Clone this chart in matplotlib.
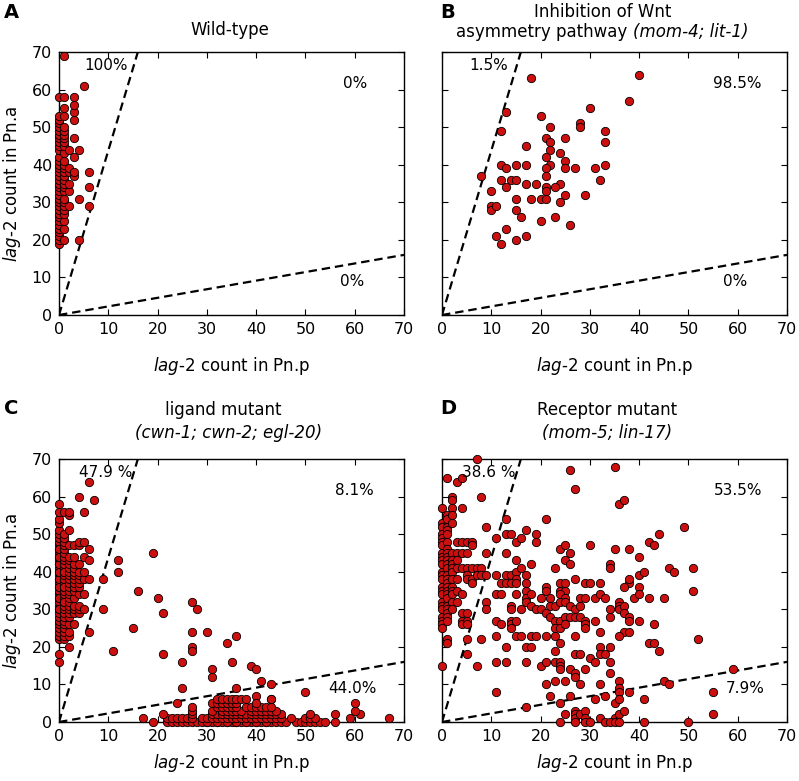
import matplotlib.pyplot as plt

plt.rcParams['font.family'] = 'DejaVu Sans'
plt.rcParams['mathtext.fontset'] = 'dejavusans'

# --- data (lag-2 counts: Pn.p on x, Pn.a on y) ---

# A: wild-type, Pn.p count -> list of Pn.a counts
wt_cols = {
    0: [19, 20, 21, 22, 23, 24, 25, 26, 27, 28, 29, 30, 31, 32, 33, 34, 35, 36, 37, 38,
        39, 40, 41, 42, 44, 45, 46, 47, 48, 49, 50, 51, 52, 53, 58],
    1: [20, 23, 25, 27, 28, 29, 30, 31, 33, 34, 35, 36, 37, 38, 39, 40, 41, 43, 45, 46,
        47, 48, 49, 50, 53, 55, 58, 69],
    2: [29, 33, 35, 38, 39, 44],
    3: [37, 38, 42, 47, 52, 54, 56, 58],
    4: [20, 31, 44],
    5: [61],
    6: [29, 34, 38],
}

# B: mom-4; lit-1
mom4_pnp = [18, 40, 38, 30, 13, 20, 12, 28, 28, 33, 22, 21, 22, 25, 33, 17, 22, 24, 21, 25,
            12, 13, 15, 17, 22, 21, 25, 27, 31, 33, 8, 12, 14, 15, 21, 32, 17, 19, 24, 13,
            23, 21, 21, 10, 25, 29, 10, 10, 11, 15, 18, 20, 21, 24, 15, 16, 23, 20, 26, 13,
            11, 17, 15, 12]
mom4_pna = [63, 64, 57, 55, 54, 53, 49, 51, 50, 49, 50, 47, 46, 47, 46, 45, 44, 43, 42, 41,
            40, 39, 40, 40, 40, 39, 39, 39, 39, 40, 37, 36, 36, 36, 37, 36, 35, 35, 35, 34,
            34, 34, 33, 33, 32, 32, 29, 28, 29, 31, 31, 31, 31, 30, 28, 26, 26, 25, 24, 23,
            21, 21, 20, 19]

# C: cwn-1; cwn-2; egl-20
lig_cols = {
    0: [16, 18, 22, 23, 24, 25, 26, 27, 28, 29, 30, 31, 32, 33, 34, 35, 36, 37, 38, 39,
        40, 41, 42, 43, 44, 45, 46, 47, 48, 49, 50, 51, 53, 54, 56, 58, 30, 33, 36, 38,
        40, 42, 44, 46],
    1: [22, 23, 24, 25, 26, 27, 28, 29, 30, 31, 32, 33, 34, 35, 36, 37, 38, 39, 40, 41,
        42, 43, 44, 45, 46, 47, 48, 49, 50, 56, 32, 36, 40],
    2: [20, 23, 24, 26, 28, 29, 30, 31, 32, 33, 34, 35, 36, 37, 38, 39, 40, 41, 42, 43,
        44, 47, 51, 55, 56],
    3: [26, 29, 30, 31, 33, 35, 36, 37, 38, 39, 40, 41, 42, 44, 47],
    4: [29, 30, 31, 34, 36, 37, 38, 39, 40, 42, 47, 48, 60],
    5: [30, 34, 38, 40, 44, 48, 56],
    6: [24, 38, 43, 46, 64],
    7: [59],
}
lig_scatter = [(9, 38), (9, 30), (11, 19), (12, 43), (12, 40), (15, 25), (16, 35), (19, 45),
               (20, 33), (21, 29), (21, 18), (27, 32), (28, 30), (27, 24), (30, 24), (27, 20),
               (27, 19), (25, 16), (25, 9), (34, 21), (36, 23), (35, 16), (31, 14), (31, 12),
               (39, 15), (40, 14), (41, 11), (43, 10), (36, 9), (40, 7), (43, 6), (50, 8)]
# Pn.a count -> list of Pn.p counts (bottom band)
lig_rows = {
    0: [19, 22, 23, 24, 25, 26, 27, 28, 29, 30, 31, 32, 33, 34, 35, 36, 37, 38, 39, 40,
        41, 42, 43, 44, 45, 46, 48, 49, 50, 51, 52, 53, 54, 56, 30, 32, 34, 36, 38, 40, 42],
    1: [17, 22, 23, 24, 25, 26, 27, 29, 30, 31, 32, 33, 34, 35, 36, 37, 38, 39, 40, 41,
        42, 43, 44, 45, 47, 50, 51, 52, 59, 67],
    2: [21, 27, 31, 32, 33, 34, 35, 36, 37, 38, 39, 40, 41, 42, 43, 44, 45, 51, 56, 61],
    3: [27, 31, 33, 34, 35, 36, 37, 39, 40, 41, 42, 43, 44, 60],
    4: [27, 32, 33, 34, 35, 36, 38, 39, 40, 41, 42, 43],
    5: [24, 31, 32, 33, 34, 35, 36, 40, 60],
    6: [32, 33, 34, 35, 36, 37, 38, 43],
}

# D: mom-5; lin-17
rec_cols = {
    0: [57, 53, 52, 50, 49, 48, 47, 45, 44, 43, 42, 40, 39, 38, 36, 35, 34, 32, 31, 30,
        28, 27, 26, 25, 15],
    1: [65, 55, 54, 52, 51, 50, 48, 46, 45, 44, 43, 42, 41, 39, 38, 37, 36, 35, 34, 33,
        31, 30, 29, 28, 27, 22, 21],
    2: [60, 59, 57, 55, 53, 45, 43, 42, 41, 40, 38, 36, 35, 34, 32, 30],
    3: [64, 48, 45, 43, 41, 38, 35, 32],
    4: [65, 57, 48, 45, 41, 34, 29, 27, 26],
    5: [48, 45, 41, 39, 38, 29, 27, 26, 22, 18],
    6: [48, 47, 41, 38, 37],
    7: [41, 39, 15],
    8: [60, 41, 39, 22],
}
rec_scatter = [
    (7, 70), (35, 68), (26, 67), (27, 62), (36, 58), (37, 59), (13, 54), (21, 54), (49, 52),
    (9, 52), (11, 49), (13, 50), (14, 50), (17, 51), (15, 48), (16, 49), (19, 50), (19, 48),
    (44, 50), (42, 48), (43, 47), (30, 47), (24, 46), (25, 47), (26, 45), (35, 46), (38, 46),
    (40, 44), (9, 45), (13, 45), (25, 43), (26, 42), (23, 41), (15, 43), (18, 42), (34, 42),
    (34, 41), (46, 41), (47, 40), (51, 41), (40, 39), (41, 40), (9, 39), (11, 39), (13, 39),
    (14, 39), (15, 40), (15, 38), (16, 41), (17, 39), (12, 37), (13, 37), (14, 37), (15, 37),
    (17, 37), (21, 36), (21, 35), (24, 37), (25, 37), (27, 38), (29, 37), (30, 37), (32, 37),
    (38, 37), (38, 38), (37, 36), (40, 36), (51, 35), (11, 34), (12, 34), (15, 34), (17, 35),
    (17, 33), (18, 34), (24, 35), (25, 35), (24, 34), (25, 33), (22, 33), (20, 33), (28, 33),
    (29, 33), (31, 33), (32, 34), (33, 33), (36, 32), (39, 33), (40, 34), (42, 33), (45, 33),
    (9, 32), (9, 30), (14, 31), (14, 30), (17, 32), (18, 31), (16, 30), (19, 30), (20, 30),
    (22, 31), (23, 31), (24, 32), (25, 32), (26, 31), (27, 30), (28, 31), (21, 29), (22, 28),
    (23, 27), (24, 27), (25, 28), (26, 28), (27, 28), (28, 28), (34, 28), (34, 30), (36, 31),
    (36, 30), (37, 31), (37, 29), (38, 28), (38, 27), (11, 27), (12, 26), (14, 27), (14, 26),
    (14, 25), (15, 27), (15, 23), (16, 23), (11, 23), (18, 23), (19, 23), (21, 23), (23, 25),
    (24, 25), (25, 26), (23, 23), (27, 23), (29, 27), (29, 26), (29, 25), (31, 27), (32, 24),
    (40, 27), (43, 26), (37, 24), (38, 24), (36, 23), (52, 22), (13, 20), (17, 20), (18, 20),
    (24, 21), (23, 19), (32, 20), (34, 20), (42, 21), (43, 21), (44, 19), (27, 18), (28, 18),
    (30, 17), (32, 18), (33, 18), (34, 16), (31, 16), (23, 16), (24, 16), (24, 15), (24, 14),
    (20, 15), (21, 16), (17, 16), (13, 16), (11, 16), (26, 14), (27, 13), (27, 12), (29, 14),
    (34, 13), (21, 10), (23, 11), (25, 11), (28, 10), (32, 10), (36, 11), (36, 9), (36, 8),
    (11, 8), (22, 7), (24, 5), (26, 7), (31, 6), (33, 7), (35, 5), (36, 6), (38, 8), (41, 6),
    (45, 11), (46, 10), (59, 14), (55, 8), (55, 2), (17, 4), (25, 2), (27, 3), (27, 2),
    (27, 1), (28, 2), (29, 3), (29, 1), (32, 1), (35, 1), (36, 2), (37, 3), (24, 0), (27, 0),
    (29, 0), (30, 0), (33, 0), (34, 0), (35, 0), (36, 0), (41, 0), (50, 0),
]

titles = [["Wild-type"],
          ["Inhibition of Wnt", "asymmetry pathway", "(mom-4; lit-1)"],
          ["ligand mutant", "(cwn-1; cwn-2; egl-20)"],
          ["Receptor mutant", "(mom-5; lin-17)"]]
percents = [["100%", "0%", "0%"],
            ["1.5%", "98.5%", "0%"],
            ["47.9 %", "8.1%", "44.0%"],
            ["38.6 %", "53.5%", "7.9%"]]
ticks = [0, 10, 20, 30, 40, 50, 60, 70]
ratio = 16 / 70  # slope of the lower dashed boundary


def from_cols(cols):
    xs, ys = [], []
    for x, vals in cols.items():
        xs += [x] * len(vals)
        ys += vals
    return xs, ys


def from_rows(rows):
    xs, ys = [], []
    for y, vals in rows.items():
        xs += vals
        ys += [y] * len(vals)
    return xs, ys


wt_x, wt_y = from_cols(wt_cols)
lx1, ly1 = from_cols(lig_cols)
lx2, ly2 = from_rows(lig_rows)
lig_x = lx1 + [p[0] for p in lig_scatter] + lx2
lig_y = ly1 + [p[1] for p in lig_scatter] + ly2
rx1, ry1 = from_cols(rec_cols)
rec_x = rx1 + [p[0] for p in rec_scatter]
rec_y = ry1 + [p[1] for p in rec_scatter]

data = [(wt_x, wt_y), (mom4_pnp, mom4_pna), (lig_x, lig_y), (rec_x, rec_y)]

W, H = 799, 781
fig = plt.figure(figsize=(W / 100, H / 100), dpi=100)


def ftext(x, y, s, **kw):
    fig.text(x / W, 1 - y / H, s, **kw)


rects = [[59 / W, 1 - 315 / H, 345 / W, 263 / H],
         [442 / W, 1 - 315 / H, 345 / W, 263 / H],
         [59 / W, 1 - 722 / H, 345 / W, 263 / H],
         [442 / W, 1 - 722 / H, 345 / W, 263 / H]]

lab = r"$\mathit{lag}$-$\mathit{2}$ count in "
for i, rect in enumerate(rects):
    ax = fig.add_axes(rect)
    x, y = data[i]
    ax.scatter(x, y, s=36, c='#cc1010', edgecolors='black', linewidths=0.6,
               clip_on=False, zorder=3)
    ax.axline((0, 0), slope=1 / ratio, color='black', lw=1.6, ls=(0, (3.8, 2.2)), zorder=2)
    ax.axline((0, 0), slope=ratio, color='black', lw=1.6, ls=(0, (3.8, 2.2)), zorder=2)
    ax.set_xlim(0, 70)
    ax.set_ylim(0, 70)
    ax.set_xticks(ticks)
    ax.set_yticks(ticks)
    ax.tick_params(direction='in', top=True, right=True, length=4, width=0.8,
                   labelsize=11.5, pad=5)
    for sp in ax.spines.values():
        sp.set_linewidth(1.0)
    ax.set_xlabel(lab + "Pn.p", fontsize=12, labelpad=13 if i < 2 else 6)
    if i % 2 == 0:
        ax.set_ylabel(lab + "Pn.a", fontsize=12, labelpad=6)
    else:
        ax.tick_params(labelleft=False)
    p = percents[i]
    ax.text(9.5, 66.5, p[0], fontsize=11, ha='center', va='center')
    ax.text(60, 61.5, p[1], fontsize=11, ha='center', va='center')
    ax.text(61.5 if i == 3 else 59.5, 9, p[2], fontsize=11, ha='center', va='center')

# panel letters
for letter, (lx, ly) in zip("ABCD", [(11, 13), (448, 12), (11, 408), (448, 408)]):
    ftext(lx, ly, letter, fontsize=14, fontweight='bold', ha='center', va='center')

# titles
ftext(230, 30, titles[0][0], fontsize=12, ha='center', va='center')
ftext(603, 12, titles[1][0], fontsize=12, ha='center', va='center')
ftext(633, 32, titles[1][1] + " ", fontsize=12, ha='right', va='center')
ftext(633, 32, titles[1][2], fontsize=12, ha='left', va='center', style='italic')
ftext(223, 410, titles[2][0], fontsize=12, ha='center', va='center')
ftext(229, 433, titles[2][1], fontsize=12, ha='center', va='center', style='italic')
ftext(607, 410, titles[3][0], fontsize=12, ha='center', va='center')
ftext(607, 433, titles[3][1], fontsize=12, ha='center', va='center', style='italic')

fig.savefig('out.png', dpi=100)
